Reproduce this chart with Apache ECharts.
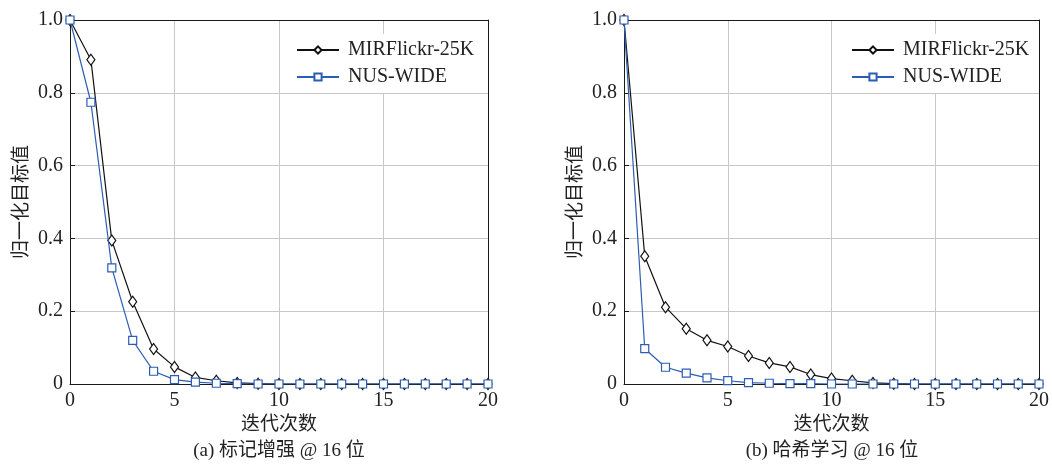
<!DOCTYPE html>
<html>
<head>
<meta charset="utf-8">
<script src="https://cdn.jsdelivr.net/npm/echarts@6/dist/echarts.min.js"></script>
<style>
html,body{margin:0;padding:0;background:#fff;}
#c{width:1052px;height:465px;}
</style>
</head>
<body>
<div id="c"></div>
<script>
// Data
var iterations = [0,1,2,3,4,5,6,7,8,9,10,11,12,13,14,15,16,17,18,19,20];
var seriesNames = ['MIRFlickr-25K', 'NUS-WIDE'];
var panelA_MIR = [1.0,0.891,0.394,0.226,0.096,0.047,0.018,0.009,0.003,0.001,0,0,0,0,0,0,0,0,0,0,0];
var panelA_NUS = [1.0,0.774,0.319,0.120,0.035,0.012,0.005,0.002,0.001,0,0,0,0,0,0,0,0,0,0,0,0];
var panelB_MIR = [1.0,0.351,0.211,0.152,0.120,0.103,0.077,0.058,0.047,0.026,0.015,0.009,0.003,0.001,0,0,0,0,0,0,0];
var panelB_NUS = [1.0,0.097,0.046,0.030,0.017,0.009,0.004,0.002,0.001,0.001,0,0,0,0,0,0,0,0,0,0,0];
var xTicks = [0,5,10,15,20];
var yTicks = [0,0.2,0.4,0.6,0.8,1.0];
var captions = ['(a) 标记增强 @ 16 位', '(b) 哈希学习 @ 16 位'];
var xName = '迭代次数';
var yName = '归一化目标值';

var SERIF = '"Liberation Serif","DejaVu Serif",serif';
var CJK = '"Liberation Serif","Noto Sans CJK SC",serif';
var BLUE = '#2c5cb4';
var BLACK = '#111';
var AXIS = '#1a1a1a';

function pairs(ys){ return iterations.map(function(x,i){ return [x, ys[i]]; }); }

var grids = [
  {left:70, top:20, width:418, height:364},
  {left:624, top:20, width:417, height:364}
];

var xAxes = [], yAxes = [];
[0,1].forEach(function(i){
  xAxes.push({
    type:'value', gridIndex:i, position:'bottom', min:xTicks[0], max:xTicks[xTicks.length-1], interval:5,
    name:xName, nameLocation:'middle', nameGap:29,
    nameTextStyle:{fontFamily:CJK, fontSize:19, color:'#222'},
    axisLine:{show:true, onZero:false, lineStyle:{color:AXIS, width:1}},
    axisTick:{show:true, inside:true, length:5, lineStyle:{color:AXIS}},
    axisLabel:{fontFamily:SERIF, fontSize:20, color:'#222', margin:7},
    splitLine:{show:true, showMinLine:false, showMaxLine:false, lineStyle:{color:'#c8c8c8', width:1}}
  });
  xAxes.push({
    type:'value', gridIndex:i, position:'top', min:xTicks[0], max:xTicks[xTicks.length-1], interval:5,
    axisLine:{show:true, onZero:false, lineStyle:{color:AXIS, width:1}},
    axisTick:{show:false}, axisLabel:{show:false}, splitLine:{show:false}
  });
  yAxes.push({
    type:'value', gridIndex:i, position:'left', min:yTicks[0], max:yTicks[yTicks.length-1], interval:0.2,
    name:yName, nameLocation:'middle', nameGap:38,
    nameTextStyle:{fontFamily:CJK, fontSize:19, color:'#222'},
    axisLine:{show:true, onZero:false, lineStyle:{color:AXIS, width:1}},
    axisTick:{show:true, inside:true, length:5, lineStyle:{color:AXIS}},
    axisLabel:{fontFamily:SERIF, fontSize:20, color:'#222', margin:7,
      formatter:function(v){ return v===0 ? '0' : v.toFixed(1); }},
    splitLine:{show:true, showMinLine:false, showMaxLine:false, lineStyle:{color:'#c8c8c8', width:1}}
  });
  yAxes.push({
    type:'value', gridIndex:i, position:'right', min:yTicks[0], max:yTicks[yTicks.length-1], interval:0.2,
    axisLine:{show:true, onZero:false, lineStyle:{color:AXIS, width:1}},
    axisTick:{show:false}, axisLabel:{show:false}, splitLine:{show:false}
  });
});

var option = {
  backgroundColor:'#fff',
  animation:false,
  grid: grids,
  xAxis: xAxes,
  yAxis: yAxes,
  legend: [0,1].map(function(i){ return {
    data: seriesNames.map(function(n){ return {name:n}; }),
    left: i===0 ? 290 : 845, top:34, orient:'vertical',
    itemWidth:42, itemHeight:9, itemGap:7,
    backgroundColor:'#fff', padding:[6,6,6,6],
    textStyle:{fontFamily:SERIF, fontSize:20, color:'#222', padding:[0,0,0,4]}
  };}),
  title: [0,1].map(function(i){ return {
    text: captions[i], left: i===0 ? 279 : 832, top:442, textAlign:'center', padding:0,
    textStyle:{fontFamily:CJK, fontSize:19, fontWeight:'normal', color:'#222'}
  };}),
  series: []
};

var panels = [[panelA_MIR, panelA_NUS],[panelB_MIR, panelB_NUS]];
panels.forEach(function(p, gi){
  option.series.push({
    name:seriesNames[0], type:'line', xAxisIndex:gi*2, yAxisIndex:gi*2,
    data:pairs(p[0]), symbol:'diamond', symbolSize:[8,11], showAllSymbol:true,
    lineStyle:{color:BLACK, width:1.2}, itemStyle:{color:'#fff', borderColor:BLACK, borderWidth:1.2},
    color:BLACK, z:6
  });
  option.series.push({
    name:seriesNames[1], type:'line', xAxisIndex:gi*2, yAxisIndex:gi*2,
    data:pairs(p[1]), symbol:'rect', symbolSize:8, showAllSymbol:true,
    lineStyle:{color:BLUE, width:1.2}, itemStyle:{color:'#fff', borderColor:BLUE, borderWidth:1.2},
    color:BLUE, z:7
  });
});

var chart = echarts.init(document.getElementById('c'));
chart.setOption(option);
</script>
</body>
</html>
